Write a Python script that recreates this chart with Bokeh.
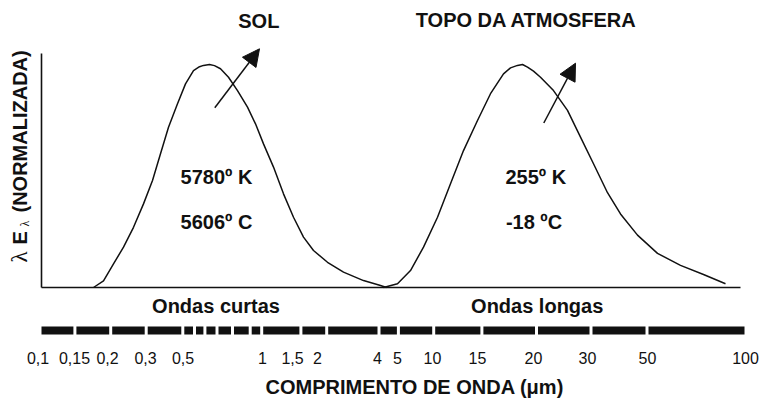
import numpy as np
from bokeh.plotting import figure
from bokeh.models import Range1d, FixedTicker, Arrow, NormalHead, Title
from bokeh.core.properties import value
from bokeh.embed import file_html
from bokeh.resources import INLINE

# ---------------- data ----------------
# x = position along the (hand drawn, non-linear) wavelength scale
TICK_LABELS = ["0,1", "0,15", "0,2", "0,3", "0,5", "1", "1,5", "2", "4", "5",
               "10", "15", "20", "30", "50", "100"]
TICK_POS = [37.5, 74.0, 107.0, 145.0, 182.5, 262.0, 292.0, 317.0, 377.0, 397.0,
            432.0, 477.0, 533.0, 587.0, 647.0, 745.0]

BAR_START, BAR_END = 41.0, 744.0
BAR_BREAKS = [74.4, 110.2, 145.7, 182.3, 194.0, 204.4, 216.5, 232.0, 249.7, 261.2,
              300.4, 326.2, 378.5, 397.9, 433.2, 481.4, 536.0, 590.5, 646.5]

# normalized lambda*E_lambda curves
SUN_X = [93, 103, 113, 123, 133, 143, 152, 160, 168, 177, 185, 193, 199, 203, 209,
         214, 220, 228, 237, 247, 255, 263, 273, 283, 293, 303, 313, 327, 343, 363, 380, 386]
SUN_Y = [0.0, 0.03, 0.106, 0.181, 0.27, 0.375, 0.48, 0.6, 0.719, 0.824, 0.913, 0.973,
         0.99, 0.996, 1.0, 0.995, 0.981, 0.943, 0.883, 0.809, 0.734, 0.644, 0.54, 0.42,
         0.315, 0.226, 0.166, 0.113, 0.069, 0.031, 0.009, 0.0]

TOA_X = [383, 397, 410, 423, 437, 450, 463, 477, 490, 503, 510, 517, 522, 527, 533,
         540, 553, 567, 580, 593, 607, 620, 637, 657, 680, 703, 725]
TOA_Y = [0.0, 0.017, 0.076, 0.181, 0.315, 0.465, 0.614, 0.749, 0.869, 0.958, 0.985,
         0.996, 1.0, 0.988, 0.97, 0.943, 0.883, 0.794, 0.674, 0.555, 0.425, 0.33, 0.235,
         0.153, 0.099, 0.058, 0.017]

# ---------------- layout helpers ----------------
PX_PER_UNIT = 223.0
BASE = 287.0          # screen row of the zero line
FRAME_TOP, FRAME_H = 0.0, 345.0


def ys(py):
    return (BASE - py) / PX_PER_UNIT


y_top = ys(FRAME_TOP)
y_bot = y_top - FRAME_H / PX_PER_UNIT

FONT = "Liberation Sans"
INK = "#111111"

p = figure(frame_width=759, frame_height=int(FRAME_H),
           x_range=Range1d(0, 759), y_range=Range1d(y_bot, y_top),
           output_backend="svg", toolbar_location=None, y_axis_location=None,
           min_border=0, min_border_left=0, min_border_right=0, min_border_top=0,
           min_border_bottom=0)
p.outline_line_color = None
p.grid.visible = False
p.background_fill_color = "white"
p.border_fill_color = "white"

# bottom axis: tick labels only
ax = p.xaxis[0]
ax.ticker = FixedTicker(ticks=TICK_POS)
ax.major_label_overrides = {t: l for t, l in zip(TICK_POS, TICK_LABELS)}
ax.axis_line_color = None
ax.major_tick_line_color = None
ax.minor_tick_line_color = None
ax.major_tick_out = 0
ax.major_tick_in = 0
ax.minor_tick_out = 0
ax.major_label_standoff = 6
ax.major_label_text_font = FONT
ax.major_label_text_font_size = "16px"
ax.major_label_text_color = INK

p.add_layout(Title(text="COMPRIMENTO DE ONDA (μm)", align="left", offset=265,
                   text_font=FONT, text_font_size="20px", text_font_style="bold",
                   text_color=INK, standoff=14), "below")

# axes lines of the diagram
p.line([41, 41], [ys(53), 0], line_color=INK, line_width=1.6)
p.line([41, 740], [0, 0], line_color=INK, line_width=1.6)

# curves
p.line(SUN_X, SUN_Y, line_color=INK, line_width=1.5)
p.line(TOA_X, TOA_Y, line_color=INK, line_width=1.5)

# segmented scale bar
GAP = 3.0
lefts = [BAR_START] + [b + GAP / 2 for b in BAR_BREAKS]
rights = [b - GAP / 2 for b in BAR_BREAKS] + [BAR_END]
p.hbar(y=ys(330), left=lefts, right=rights, height=8 / PX_PER_UNIT,
       fill_color=INK, line_color=None)

# arrows
p.add_layout(Arrow(end=NormalHead(size=17, fill_color=INK, line_color=INK, line_width=1),
                   x_start=214.3, y_start=ys(107.3), x_end=259, y_end=ys(48.3),
                   line_color=INK, line_width=1.5))
p.add_layout(Arrow(end=NormalHead(size=17, fill_color=INK, line_color=INK, line_width=1),
                   x_start=543.3, y_start=ys(122.5), x_end=575, y_end=ys(62.7),
                   line_color=INK, line_width=1.5))

# bold texts
tx = [258.3, 526.0, 216.0, 216.0, 535.3, 533.5, 215.5, 536.7]
ty = [ys(20), ys(19), ys(176.5), ys(221.7), ys(176.5), ys(221.7), ys(305.5), ys(305.5)]
tt = ["SOL", "TOPO DA ATMOSFERA", "5780º K", "5606º C", "255º K", "-18 ºC",
      "Ondas curtas", "Ondas longas"]
p.text(x=tx, y=ty, text=tt, text_font=value(FONT), text_font_style="bold",
       text_font_size="20px", text_align="center", text_baseline="middle",
       text_color=INK)

# rotated y label:  λ E_λ (NORMALIZADA)
ang = np.pi / 2
p.text(x=[19], y=[ys(262)], text=["λ"], angle=ang, text_font=value("Liberation Serif"),
       text_font_size="23px", text_align="left", text_baseline="middle", text_color=INK)
p.text(x=[19], y=[ys(244)], text=["E"], angle=ang, text_font=value(FONT),
       text_font_style="bold", text_font_size="20px", text_align="left",
       text_baseline="middle", text_color=INK)
p.text(x=[24], y=[ys(226)], text=["λ"], angle=ang, text_font=value("Liberation Serif"),
       text_font_size="12px", text_align="left", text_baseline="middle", text_color=INK)
p.text(x=[19], y=[ys(212)], text=["(NORMALIZADA)"], angle=ang, text_font=value(FONT),
       text_font_style="bold", text_font_size="20px", text_align="left",
       text_baseline="middle", text_color=INK)

open("out.html", "w").write(file_html(p, INLINE))
